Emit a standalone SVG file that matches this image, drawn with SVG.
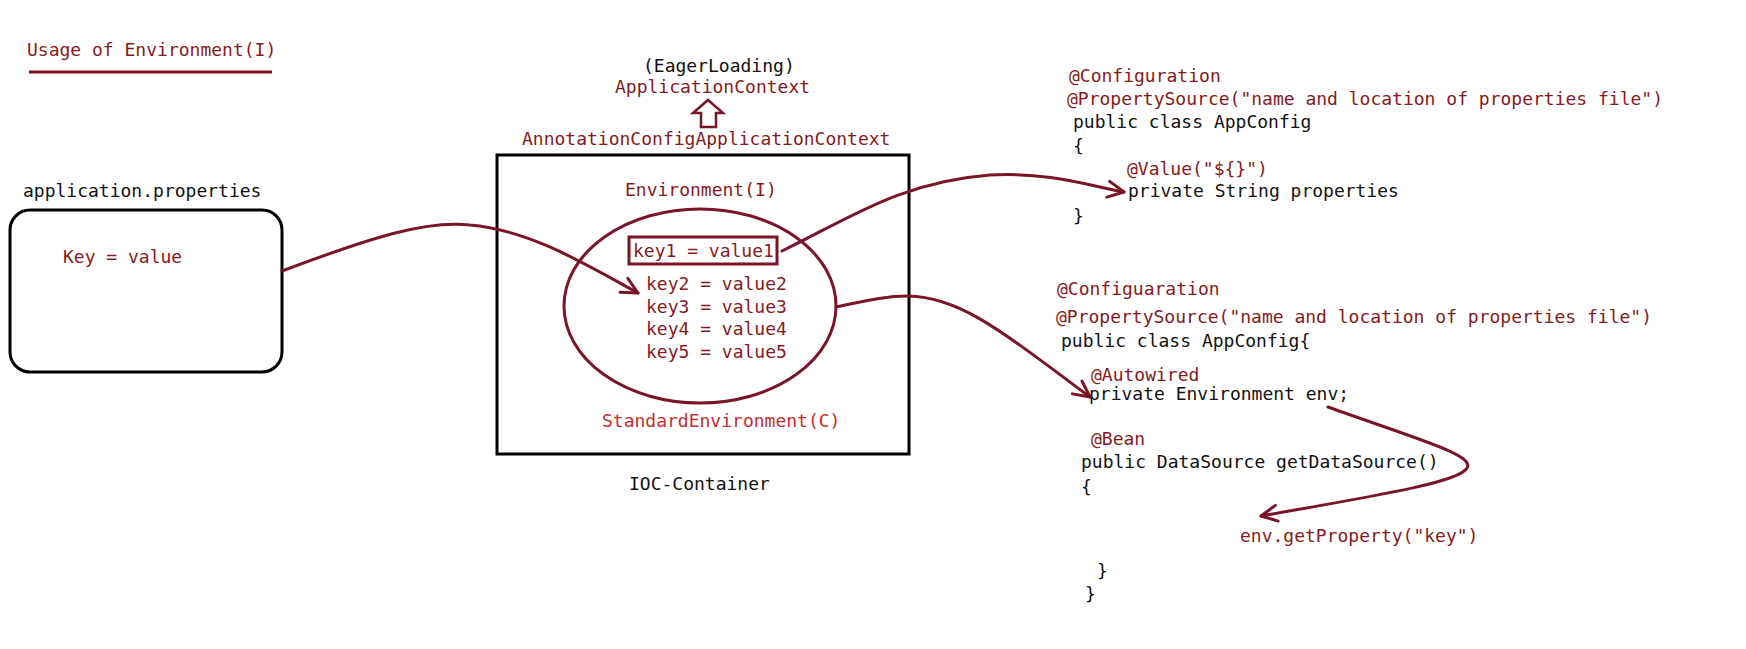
<svg xmlns="http://www.w3.org/2000/svg" width="1746" height="649" viewBox="0 0 1746 649">
<style>
text{font-family:"DejaVu Sans Mono","Liberation Mono",monospace;font-size:18px}
.k{fill:#111}
.r{fill:#861a22}
.b{fill:#c3302e}
.box{fill:none;stroke:#000;stroke-width:3}
.ln{fill:none;stroke:#7a1528;stroke-width:3;stroke-linecap:round;stroke-linejoin:round}
</style>
<defs>
<marker id="ah" viewBox="0 0 20 20" refX="18" refY="10" markerWidth="20" markerHeight="20" markerUnits="userSpaceOnUse" orient="auto">
<path d="M2,2 L18,10 L2,18" fill="none" stroke="#7a1528" stroke-width="3" stroke-linecap="round" stroke-linejoin="round"/>
</marker>
</defs>
<rect width="1746" height="649" fill="#fff"/>

<g id="title">
<text x="27" y="56" class="r">Usage of Environment(I)</text>
<line x1="29" y1="72" x2="272" y2="72" stroke="#7a1528" stroke-width="3"/>
</g>

<g id="app-properties">
<text x="23" y="197" class="k">application.properties</text>
<rect x="10" y="210" width="272" height="162" rx="20" class="box"/>
<text x="63" y="263" class="r">Key = value</text>
</g>

<g id="application-context">
<text x="643" y="72" class="k">(EagerLoading)</text>
<text x="615" y="93" class="r">ApplicationContext</text>
<path d="M708,100 L723,113 L716,113 L716,127 L701,127 L701,113 L693,113 Z" fill="#fff" stroke="#7a1528" stroke-width="2.5" stroke-linejoin="miter"/>
<text x="522" y="145" class="r">AnnotationConfigApplicationContext</text>
</g>

<g id="ioc-container">
<rect x="497" y="155" width="412" height="299" class="box"/>
<text x="625" y="196" class="r">Environment(I)</text>
<ellipse cx="700" cy="306" rx="136" ry="97" fill="none" stroke="#7a1528" stroke-width="3"/>
<rect x="629" y="237" width="148" height="27" fill="none" stroke="#7a1528" stroke-width="3"/>
<text x="633" y="257" class="r">key1 = value1</text>
<text x="646" y="290" class="r">key2 = value2</text>
<text x="646" y="313" class="r">key3 = value3</text>
<text x="646" y="335" class="r">key4 = value4</text>
<text x="646" y="358" class="r">key5 = value5</text>
<text x="602" y="427" class="b">StandardEnvironment(C)</text>
<text x="629" y="490" class="k">IOC-Container</text>
</g>

<g id="appconfig-value">
<text x="1069" y="82" class="r">@Configuration</text>
<text x="1067" y="105" class="r">@PropertySource("name and location of properties file")</text>
<text x="1073" y="128" class="k">public class AppConfig</text>
<text x="1073" y="152" class="k">{</text>
<text x="1127" y="175" class="r">@Value("${}")</text>
<text x="1128" y="197" class="k">private String properties</text>
<text x="1073" y="222" class="k">}</text>
</g>

<g id="appconfig-env">
<text x="1057" y="295" class="r">@Configuaration</text>
<text x="1056" y="323" class="r">@PropertySource("name and location of properties file")</text>
<text x="1061" y="347" class="k">public class AppConfig{</text>
<text x="1091" y="381" class="r">@Autowired</text>
<text x="1089" y="400" class="k">private Environment env;</text>
<text x="1091" y="445" class="r">@Bean</text>
<text x="1081" y="468" class="k">public DataSource getDataSource()</text>
<text x="1081" y="493" class="k">{</text>
<text x="1240" y="542" class="r">env.getProperty("key")</text>
<text x="1097" y="577" class="k">}</text>
<text x="1085" y="600" class="k">}</text>
</g>

<g id="connectors">
<path class="ln" marker-end="url(#ah)" d="M282,271 C370,238 425,220 470,225 C530,230 585,264 638,293"/>
<path class="ln" marker-end="url(#ah)" d="M782,251 C850,218 900,182 990,175 C1050,172 1090,186 1124,192"/>
<path class="ln" marker-end="url(#ah)" d="M836,307 C865,301 885,296 908,296 C960,297 1000,330 1090,397"/>
<path class="ln" marker-end="url(#ah)" d="M1328,407 C1420,440 1475,455 1467,468 C1460,482 1380,495 1261,516"/>
</g>
</svg>
